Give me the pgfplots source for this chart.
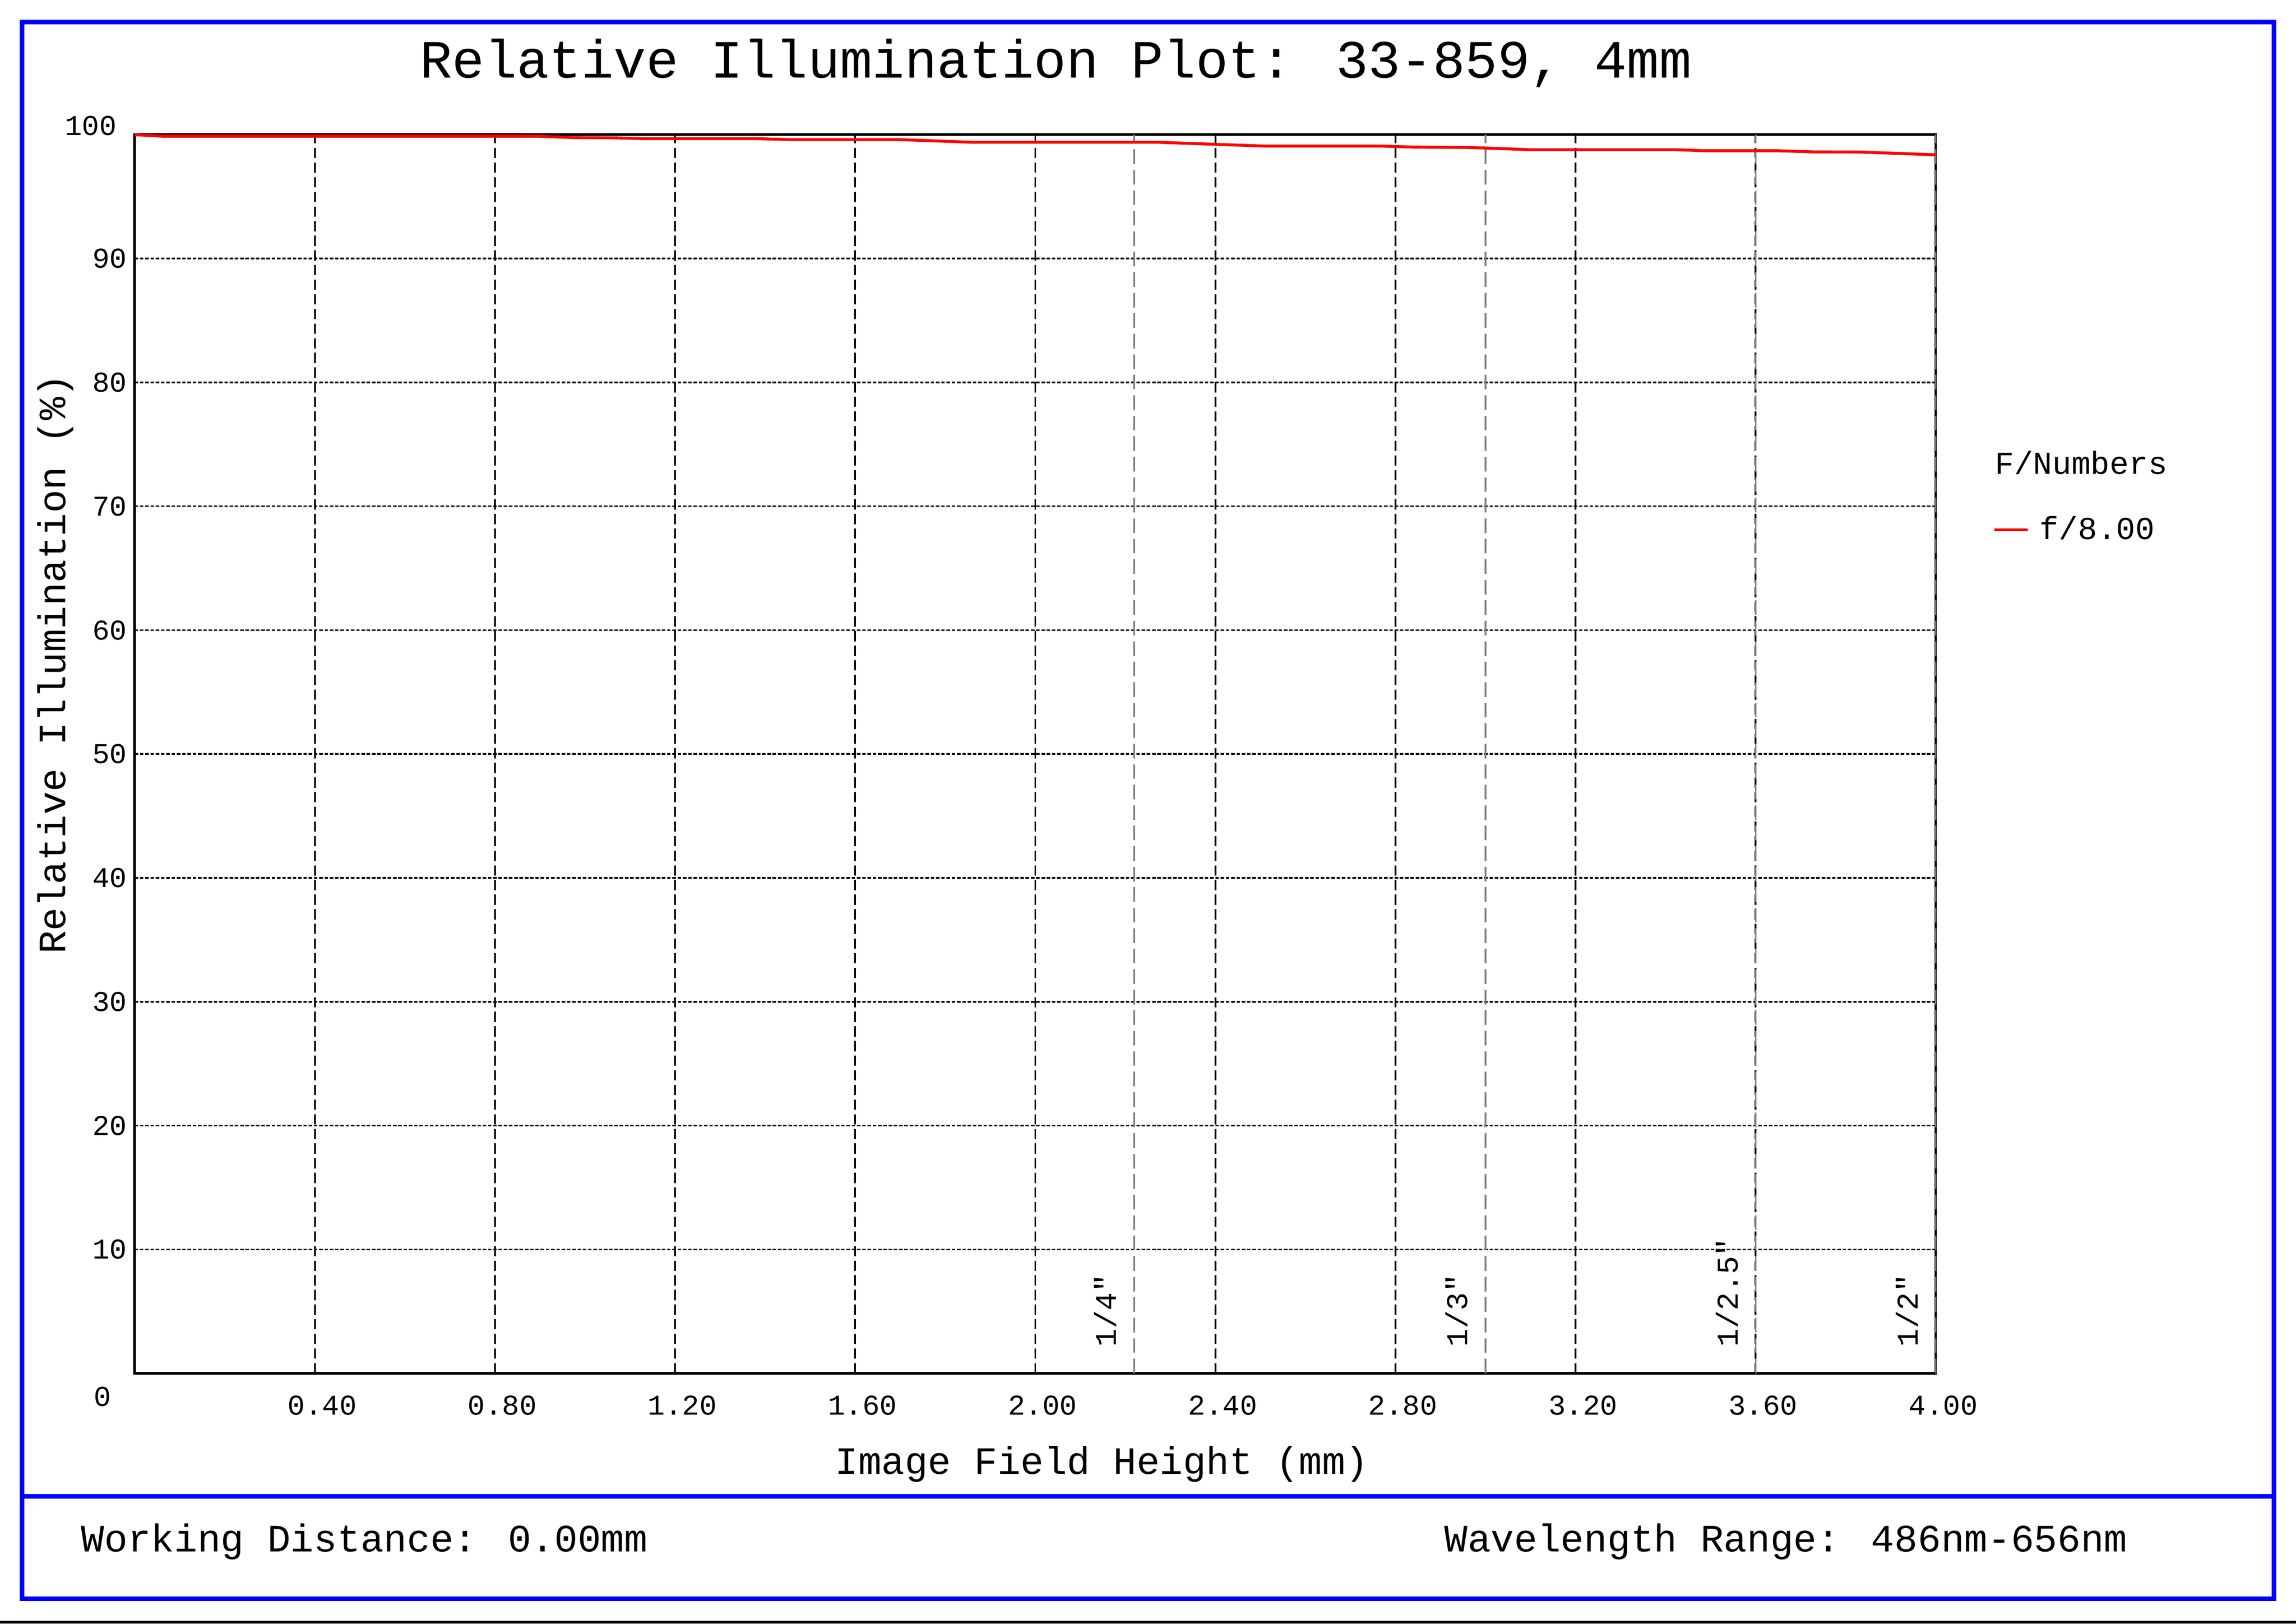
\documentclass[border=0pt]{standalone}
\usepackage{fontspec}
\setmainfont{Liberation Mono}[Ligatures=TeXOff]
\usepackage{pgfplots}
\usepackage{pgfplotstable}
\pgfplotsset{compat=1.18}

% relative illumination, f/8.00
\pgfplotstableread{
x y
0.00 100.00
0.06 99.88
0.89 99.88
0.97 99.77
1.06 99.75
1.13 99.68
1.38 99.68
1.46 99.60
1.70 99.60
1.86 99.39
2.27 99.39
2.51 99.08
2.77 99.08
2.84 99.00
2.97 98.96
3.10 98.79
3.42 98.79
3.49 98.70
3.65 98.70
3.73 98.61
3.83 98.60
4.00 98.38
}\ridata

\begin{document}
\begin{tikzpicture}
\useasboundingbox (0pt,0pt) rectangle (784pt,554.5pt);
\fill[white] (0pt,0pt) rectangle (784pt,554.5pt);
\fill[black] (0pt,0pt) rectangle (784pt,1pt);
\draw[blue, line width=1.5pt] (7.5pt,8.5pt) rectangle (776.5pt,547pt);
\draw[blue, line width=1.5pt] (7.5pt,43.5pt) -- (776.5pt,43.5pt);
\node[font=\fontsize{18.4}{22}\selectfont] at (360.5pt,533pt) {Relative Illumination Plot: 33-859, 4mm};
\node[anchor=west, inner sep=0pt, font=\fontsize{13.25}{16}\selectfont] at (27.5pt,28pt) {Working Distance: 0.00mm};
\node[anchor=west, inner sep=0pt, font=\fontsize{13.25}{16}\selectfont] at (493pt,28pt) {Wavelength Range: 486nm-656nm};

\begin{axis}[
    at={(46pt,85.5pt)}, anchor=south west,
    scale only axis, width=615pt, height=423pt,
    xmin=0, xmax=4, ymin=0, ymax=100,
    xtick={0.4,0.8,1.2,1.6,2.0,2.4,2.8,3.2,3.6,4.0},
    ytick={10,20,30,40,50,60,70,80,90},
    /pgf/number format/assume math mode=true,
    xticklabel style={/pgf/number format/.cd, fixed, fixed zerofill, precision=2, /tikz/.cd,
        anchor=center, yshift=-11pt, xshift=2.5pt},
    yticklabel style={anchor=east, inner sep=0pt, xshift=-2.5pt},
    tick label style={font=\fontsize{9.8}{12}\selectfont},
    major tick length=0pt,
    grid=major,
    x grid style={black, line width=0.6pt, dash pattern=on 3.5pt off 1.5pt},
    y grid style={black, line width=0.55pt, dash pattern=on 1.2pt off 0.6pt},
    axis line style={black, line width=0.9pt},
    xlabel={Image Field Height (mm)},
    ylabel={Relative Illumination (\%)},
    label style={font=\fontsize{13.2}{16}\selectfont},
    xlabel style={at={(axis description cs:0.537,-0.0733)}, anchor=center},
    ylabel style={at={(axis description cs:-0.0439,0.5727)}, anchor=center},
    legend style={draw=none, fill=none, inner sep=0pt, outer sep=0pt,
        at={(axis description cs:1.0317,0.681)}, anchor=west,
        font=\fontsize{10.9}{13}\selectfont},
    legend cell align=left,
    legend image code/.code={\draw[#1] (0pt,0pt) -- (11.5pt,0pt);},
    /tikz/every odd column/.append style={column sep=1.5pt},
    clip=false,
]
% sensor format lines
\addplot[gray, line width=0.55pt, dash pattern=on 5pt off 2pt, forget plot] coordinates {(2.22,0) (2.22,100)};
\addplot[gray, line width=0.55pt, dash pattern=on 5pt off 2pt, forget plot] coordinates {(3.0,0) (3.0,100)};
\addplot[gray, line width=0.55pt, dash pattern=on 5pt off 2pt, forget plot] coordinates {(3.6,0) (3.6,100)};
\addplot[gray, line width=0.55pt, dash pattern=on 5pt off 2pt, forget plot] coordinates {(4.0,0) (4.0,100)};

\addplot[red, line width=1pt] table[x=x, y=y] {\ridata};
\addlegendentry{f/8.00}

\node[rotate=90, anchor=base west, inner sep=0pt, font=\fontsize{10.3}{12}\selectfont] at (axis cs:2.18,2.1) {1/4"};
\node[rotate=90, anchor=base west, inner sep=0pt, font=\fontsize{10.3}{12}\selectfont] at (axis cs:2.96,2.1) {1/3"};
\node[rotate=90, anchor=base west, inner sep=0pt, font=\fontsize{10.3}{12}\selectfont] at (axis cs:3.56,2.1) {1/2.5"};
\node[rotate=90, anchor=base west, inner sep=0pt, font=\fontsize{10.3}{12}\selectfont] at (axis cs:3.96,2.1) {1/2"};

\node[anchor=west, inner sep=0pt, font=\fontsize{10.9}{13}\selectfont] at (axis description cs:1.0325,0.7352) {F/Numbers};
\node[anchor=east, inner sep=0pt, xshift=-6pt, yshift=3pt, font=\fontsize{9.8}{12}\selectfont] at (axis cs:0,100) {100};
\node[xshift=-11pt, yshift=-8pt, inner sep=0pt, font=\fontsize{9.8}{12}\selectfont] at (axis cs:0,0) {0};
\end{axis}
\end{tikzpicture}
\end{document}
